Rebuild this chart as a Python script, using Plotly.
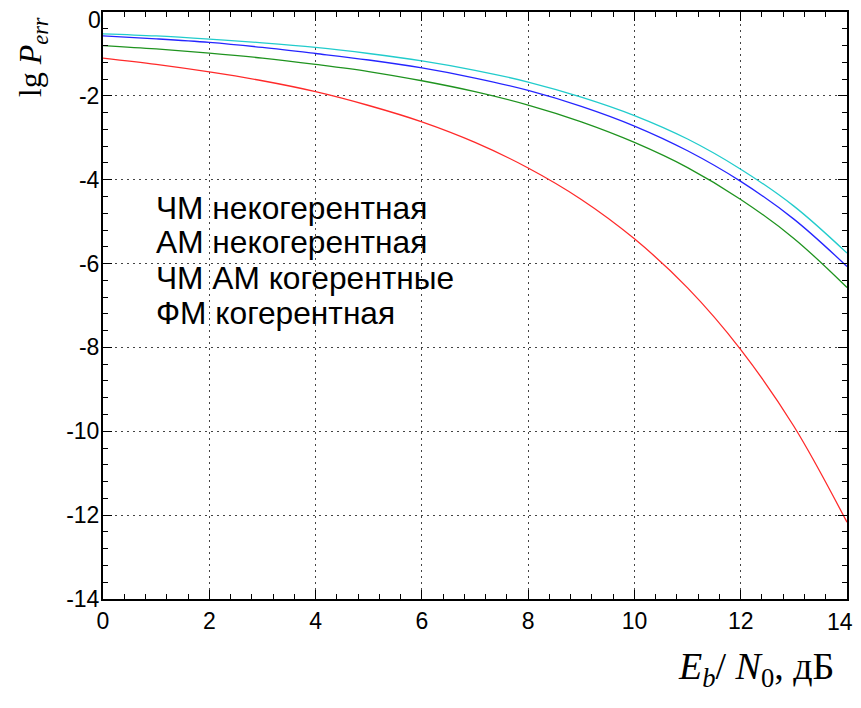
import plotly.graph_objects as go

snr_db = [0, 1, 2, 3, 4, 5, 6, 7, 8, 9, 10, 11, 12, 13, 14]
fm_noncoh = [-0.52, -0.57, -0.645, -0.735, -0.845, -0.99, -1.165, -1.39, -1.67, -2.03, -2.47, -3.03, -3.75, -4.63, -5.75]
am_noncoh = [-0.57, -0.64, -0.725, -0.845, -0.99, -1.145, -1.335, -1.575, -1.87, -2.25, -2.72, -3.31, -4.04, -4.94, -6.07]
coherent = [-0.80, -0.88, -0.98, -1.10, -1.25, -1.42, -1.64, -1.90, -2.22, -2.62, -3.11, -3.71, -4.47, -5.40, -6.57]
pm_coh = [-1.10, -1.25, -1.43, -1.64, -1.90, -2.23, -2.62, -3.11, -3.72, -4.47, -5.41, -6.58, -8.05, -9.88, -12.17]

series_names = ["ЧМ некогерентная", "АМ некогерентная", "ЧМ АМ когерентные", "ФМ когерентная"]
series_colors = ["#22cccc", "#2525ff", "#1f931f", "#ff2a2a"]

x_ticks = [0, 2, 4, 6, 8, 10, 12]
x_ticktext = ["0", "2", "4", "6", "8", "10", "12"]
x_last_tick = 14
x_last_label = "14"
y_ticks = [-2, -4, -6, -8, -10, -12, -14]
y_ticktext = ["-2", "-4", "-6", "-8", "-10", "-12", "-14"]
y_top_label = "0"

fig = go.Figure()
for vals, name, col in zip([fm_noncoh, am_noncoh, coherent, pm_coh], series_names, series_colors):
    fig.add_trace(go.Scatter(x=snr_db, y=vals, mode="lines", name=name,
                             line=dict(color=col, width=1.3, shape="spline", smoothing=1.0),
                             showlegend=False))

legend_y = [-4.68, -5.49, -6.35, -7.18]
for name, yy in zip(series_names, legend_y):
    fig.add_annotation(x=0.96, y=yy, xref="x", yref="y", text=name, showarrow=False,
                       xanchor="left", yanchor="middle",
                       font=dict(family="Liberation Sans", size=31.7, color="black"))

axis_common = dict(showline=True, linecolor="black", linewidth=2, mirror="ticks",
                   ticks="inside", ticklen=9, tickwidth=1, tickcolor="black",
                   showgrid=True, gridcolor="#444444", gridwidth=1, griddash="2px,4px",
                   zeroline=False, automargin=False, ticklabeloverflow="allow",
                   tickfont=dict(family="Liberation Sans", size=23, color="black"),
                   minor=dict(ticks="inside", ticklen=5, dtick=0.4, tick0=0,
                              tickcolor="black", showgrid=False))

fig.update_xaxes(range=[0, 14], tickvals=x_ticks, ticktext=x_ticktext,
                 ticklabelstandoff=0, **axis_common)
fig.update_yaxes(range=[-14, 0], tickvals=y_ticks, ticktext=y_ticktext,
                 ticklabelstandoff=-3, **axis_common)

fig.add_annotation(x=0, y=0, xref="x", yref="y", text=y_top_label, showarrow=False,
                   xanchor="right", yanchor="top", xshift=0, yshift=7,
                   font=dict(family="Liberation Sans", size=23, color="black"))

fig.add_annotation(x=x_last_tick, y=-14, xref="x", yref="y", text=x_last_label, showarrow=False,
                   xanchor="center", yanchor="top", xshift=-7, yshift=-8,
                   font=dict(family="Liberation Sans", size=23, color="black"))

fig.add_annotation(x=-0.0954, y=0.923, xref="paper", yref="paper",
                   text="lg <i>P</i><sub><i>err</i></sub>",
                   showarrow=False, textangle=-90, xanchor="center", yanchor="middle",
                   font=dict(family="Liberation Serif", size=32, color="black"))

fig.add_annotation(x=0.985, y=-0.075, xref="paper", yref="paper",
                   text="<i>E</i><sub><i>b</i></sub>/ <i>N</i><sub>0</sub>, дБ",
                   showarrow=False, xanchor="right", yanchor="top",
                   font=dict(family="Liberation Serif", size=38, color="black"))

fig.update_layout(width=853, height=692, margin=dict(l=95, r=14, t=4, b=101),
                  plot_bgcolor="white", paper_bgcolor="white")

fig.write_html("out.html")
